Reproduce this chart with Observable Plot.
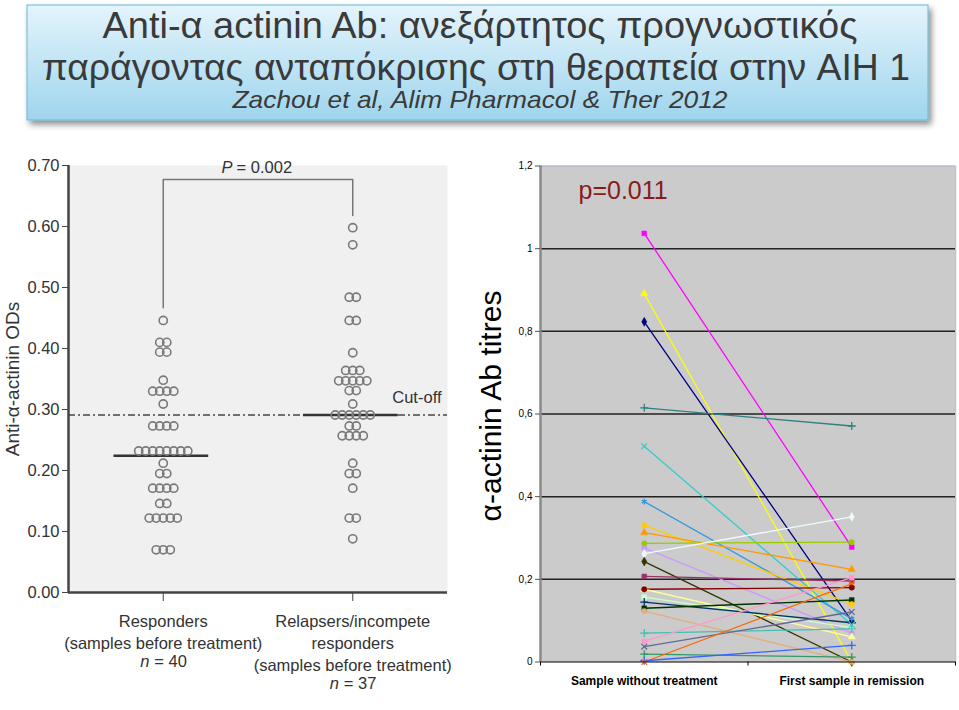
<!DOCTYPE html>
<html><head><meta charset="utf-8">
<script src="https://cdn.jsdelivr.net/npm/d3@7"></script>
<script src="https://cdn.jsdelivr.net/npm/@observablehq/plot@0.6"></script>
<style>
body{margin:0;background:#fff;width:959px;height:710px;overflow:hidden;position:relative;font-family:"Liberation Sans",Arial,sans-serif;}
#title{position:absolute;left:0;top:0;}
#left{position:absolute;left:0;top:140px;}
#right{position:absolute;left:460px;top:140px;}
</style></head><body>
<svg id="title" width="959" height="135">
  <defs>
    <linearGradient id="tg" x1="0" y1="0" x2="0" y2="1">
      <stop offset="0" stop-color="#e4f4fc"/>
      <stop offset="1" stop-color="#9fd5ed"/>
    </linearGradient>
    <filter id="sh" x="-5%" y="-20%" width="110%" height="150%">
      <feDropShadow dx="3" dy="4" stdDeviation="3" flood-color="#000" flood-opacity="0.45"/>
    </filter>
  </defs>
  <rect x="27" y="5" width="901" height="115" fill="url(#tg)" stroke="#6bb7d3" stroke-width="1" filter="url(#sh)"/>
  <g fill="#3a3a3a" font-family="'Liberation Sans', Arial, sans-serif" text-anchor="middle">
    <text id="t1" x="480" y="38" font-size="37" textLength="755" lengthAdjust="spacingAndGlyphs"></text>
    <text id="t2" x="476" y="80" font-size="37" textLength="868" lengthAdjust="spacingAndGlyphs"></text>
    <text id="t3" x="480" y="108" font-size="24" font-style="italic" textLength="495" lengthAdjust="spacingAndGlyphs"></text>
  </g>
</svg>
<div id="left"></div><div id="right"></div>
<script>
// ---------- title ----------
const titleLines = ["Anti-α actinin Ab: ανεξάρτητος προγνωστικός",
                    "παράγοντας ανταπόκρισης στη θεραπεία στην AIH 1",
                    "Zachou et al, Alim Pharmacol & Ther 2012"];

// ---------- left chart data ----------
// [value, number of samples at that value]
const respondersRows = [[0.446,1],[0.41,2],[0.394,2],[0.348,1],[0.33,4],[0.309,1],[0.273,4],[0.232,8],
                        [0.212,1],[0.195,2],[0.171,4],[0.146,2],[0.122,5],[0.07,3]];
const relapsersRows = [[0.598,1],[0.57,1],[0.484,2],[0.446,2],[0.393,1],[0.364,3],[0.347,5],[0.331,2],
                       [0.309,1],[0.291,6],[0.273,2],[0.257,4],[0.212,1],[0.195,2],[0.171,1],[0.122,2],[0.088,1]];
const leftCategoryLabels = ["Responders\n(samples before treatment)",
                            "Relapsers/incompete\nresponders\n(samples before treatment)"];
const leftNLabels = ["= 40", "= 37"];
const leftMedians = [0.224, 0.291];
const cutoffValue = 0.291;
const cutoffLabel = "Cut-off";
const leftPValue = "= 0.002";
const leftYLabel = "Anti-α-actinin ODs";
const leftYTicks = [0, 0.1, 0.2, 0.3, 0.4, 0.5, 0.6, 0.7];
const bracketPoints = [[0,0.467],[0,0.677],[1,0.677],[1,0.618]];

// ---------- right chart data ----------
const stages = ["Sample without treatment", "First sample in remission"];
const beforeValues = [1.037,0.891,0.823,0.615,0.522,0.388,0.331,0.313,0.287,0.276,0.262,0.243,0.207,0.176,0.176,0.157,0.145,0.13,0.123,0.07,0.05,0.037,0.019,0.0,0.003];
const afterValues  = [0.278,0.0,0.099,0.571,0.09,0.105,0.14,0.224,0.29,0.07,0.351,0.0,0.196,0.18,0.061,0.083,0.095,0.15,0.0,0.08,0.204,0.121,0.012,0.189,0.04];
const seriesColors = ["#ff00ff","#ffff00","#000080","#2e8080","#33cccc","#3399dd","#ffcc00","#ff9900","#99cc00","#cc99ff","#eefcff","#333300","#993366","#800000","#ffff99","#ccffcc","#003366","#003300","#e0b080","#40c0b0","#ff99cc","#666699","#339966","#ff6600","#3366ff"];
const seriesSymbols = ["square","triangle","diamond","plus","times","asterisk","circle","triangle","circle","square","diamond","diamond","square","circle","triangle","square","plus","square","circle","plus","square","times","plus","times","plus"];
const rightYTicks = [0, 0.2, 0.4, 0.6, 0.8, 1, 1.2];
const rightPValue = "p=0.011";
const rightYLabel = "α-actinin Ab titres";

titleLines.forEach((t,i)=>{document.getElementById("t"+(i+1)).textContent = t;});

// ---------- left chart ----------
const dotStep = 0.037;
const leftDots = [];
[respondersRows, relapsersRows].forEach((rows, g) => rows.forEach(([v, n]) => {
  for (let k = 0; k < n; k++) leftDots.push({g, v, k, n});
}));
const fs = 16.5;

const leftMarks = [
  Plot.frame({fill:"#f0f0f0", stroke:null}),
  Plot.ruleY([cutoffValue], {stroke:"#444", strokeWidth:1.6, strokeDasharray:"7,3,2,3"}),
  Plot.ruleY(leftMedians, {y:d=>d, x1:(d,i)=>i-0.26, x2:(d,i)=>i+0.24, stroke:"#333", strokeWidth:2.5}),
  Plot.line(bracketPoints, {x:d=>d[0], y:d=>d[1], stroke:"#777", strokeWidth:1.5}),
  Plot.dot(leftDots, {x:d=>d.g + (d.k-(d.n-1)/2)*dotStep, y:"v", r:4.1, stroke:"#7a7a7a", strokeWidth:1.6, fill:"none"}),
  Plot.ruleX([-0.5], {y1:0, y2:0.7, stroke:"#444", strokeWidth:2.5}),
  Plot.ruleY([0], {stroke:"#444", strokeWidth:2.5}),
  Plot.axisY({ticks:leftYTicks, tickFormat:d3.format(".2f"), tickSize:6, tickPadding:3, label:null, fontSize:fs, stroke:"#444", fill:"#333"}),
  Plot.axisX({ticks:[0,1], tickFormat:()=>"", tickSize:9, label:null, stroke:"#444"}),
  Plot.text([cutoffLabel], {x:1.5, y:0.319, textAnchor:"end", dx:-6, fontSize:fs, fill:"#333"}),
  Plot.text(["P"], {x:0.387, y:0.696, textAnchor:"end", dx:-4, fontSize:fs, fontStyle:"italic", fill:"#333"}),
  Plot.text([leftPValue], {x:0.387, y:0.696, textAnchor:"start", fontSize:fs, fill:"#333"}),
  Plot.text(leftCategoryLabels, {x:(d,i)=>i, frameAnchor:"bottom", lineAnchor:"top", dy:19, lineHeight:1.33, fontSize:fs, fill:"#333"}),
  Plot.text([leftYLabel], {frameAnchor:"left", textAnchor:"middle", rotate:-90, dx:-56, fontSize:19, fill:"#333"})
];
const nOffsets = [63, 85];
leftNLabels.forEach((lab, i) => {
  leftMarks.push(Plot.text(["n"], {x:()=>i, frameAnchor:"bottom", lineAnchor:"top", dy:nOffsets[i], textAnchor:"start", dx:-23, fontStyle:"italic", fontSize:fs, fill:"#333"}));
  leftMarks.push(Plot.text([lab], {x:()=>i, frameAnchor:"bottom", lineAnchor:"top", dy:nOffsets[i], textAnchor:"start", dx:-9, fontSize:fs, fill:"#333"}));
});

const leftPlot = Plot.plot({
  width:460, height:570, marginLeft:68, marginRight:13, marginTop:25, marginBottom:118,
  style:{fontFamily:'"Liberation Sans",Arial,sans-serif', fontSize:fs+"px", background:"transparent", overflow:"visible", color:"#333"},
  x:{domain:[-0.5,1.5], axis:null},
  y:{domain:[0,0.7], axis:null},
  marks:leftMarks
});
document.getElementById("left").appendChild(leftPlot);

// ---------- right chart ----------
const pairs = beforeValues.flatMap((b, i) => [
  {id:i, stage:0, v:b, color:seriesColors[i], symbol:seriesSymbols[i]},
  {id:i, stage:1, v:afterValues[i], color:seriesColors[i], symbol:seriesSymbols[i]}
]);
const symbolKinds = Array.from(new Set(seriesSymbols));
const filled = new Set(["square","triangle","diamond","circle"]);

const rightPlot = Plot.plot({
  width:499, height:570, marginLeft:80, marginRight:4, marginTop:25.5, marginBottom:48.5,
  style:{fontFamily:'"Liberation Sans",Arial,sans-serif', fontSize:"10px", background:"transparent", overflow:"visible", color:"#000"},
  x:{domain:[0,2], axis:null},
  y:{domain:[0,1.2], axis:null},
  color:{type:"identity"},
  marks:[
    Plot.frame({fill:"#cbcbcb", stroke:null}),
    Plot.ruleY([1.2], {stroke:"#b8b8cc", strokeWidth:1.5}),
    Plot.ruleX([2], {stroke:"#c2c2d2", strokeWidth:1.5}),
    Plot.ruleY([0.2,0.4,0.6,0.8,1.0], {stroke:"#222", strokeWidth:1.5}),
    Plot.line(pairs, {x:d=>d.stage+0.5, y:"v", z:"id", stroke:"color", strokeWidth:1.3}),
    ...symbolKinds.map(s => Plot.dot(pairs.filter(d=>d.symbol===s), {
      x:d=>d.stage+0.5, y:"v", symbol:s, r:2.7,
      fill: filled.has(s) ? "color" : "none", stroke:"color", strokeWidth: filled.has(s) ? 0.5 : 1.3
    })),
    Plot.ruleY([0], {stroke:"#000", strokeWidth:1}),
    Plot.ruleX([0], {stroke:"#8a8a8a", strokeWidth:2.5}),
    Plot.axisY({ticks:rightYTicks, tickFormat:d=>String(d).replace(".", ","), tickSize:5, tickPadding:3, label:null, fontSize:10, stroke:"#555"}),
    Plot.axisX({ticks:[0,1,2], tickFormat:()=>"", tickSize:4, label:null}),
    Plot.text(stages, {x:(d,i)=>i+0.5, frameAnchor:"bottom", dy:22.5, fontWeight:"bold", fontSize:12}),
    Plot.text([rightPValue], {frameAnchor:"top-left", dx:38, dy:15.5, textAnchor:"start", fontSize:25, fill:"#8b1a1a"}),
    Plot.text([rightYLabel], {frameAnchor:"left", textAnchor:"middle", rotate:-90, dx:-49, dy:-8, fontSize:30})
  ]
});
document.getElementById("right").appendChild(rightPlot);
</script>
</body></html>
